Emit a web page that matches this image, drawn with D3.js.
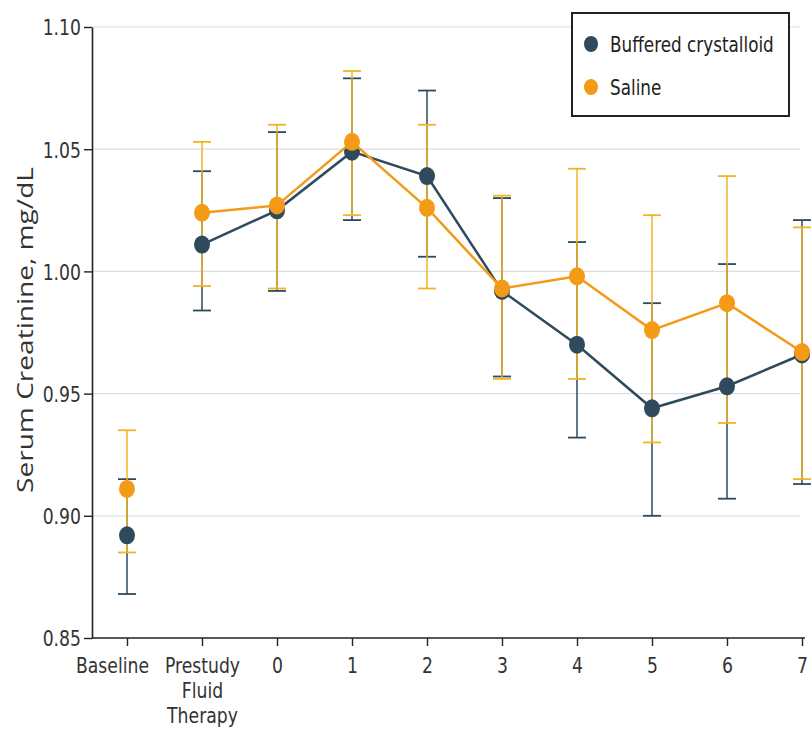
<!DOCTYPE html>
<html>
<head>
<meta charset="utf-8">
<script src="https://cdn.jsdelivr.net/npm/d3@7/dist/d3.min.js"></script>
<style>
  body { margin: 0; background: #fff; }
  svg text { font-family: 'DejaVu Sans Condensed', sans-serif; }
</style>
</head>
<body>
<div id="chart"></div>
<script>
// categories along the x axis (multi-line labels split on |)
const categories = ['Baseline', 'Prestudy|Fluid|Therapy', '0', '1', '2', '3', '4', '5', '6', '7']
const yTicks = [0.85, 0.90, 0.95, 1.00, 1.05, 1.10]

// Buffered crystalloid: mean, lower, upper
const bufferedMean  = [0.892, 1.011, 1.025, 1.049, 1.039, 0.992, 0.970, 0.944, 0.953, 0.966]
const bufferedLower = [0.868, 0.984, 0.992, 1.021, 1.006, 0.957, 0.932, 0.900, 0.907, 0.913]
const bufferedUpper = [0.915, 1.041, 1.057, 1.079, 1.074, 1.030, 1.012, 0.987, 1.003, 1.021]

// Saline
const salineMean  = [0.911, 1.024, 1.027, 1.053, 1.026, 0.993, 0.998, 0.976, 0.987, 0.967]
const salineLower = [0.885, 0.994, 0.993, 1.023, 0.993, 0.956, 0.956, 0.930, 0.938, 0.915]
const salineUpper = [0.935, 1.053, 1.060, 1.082, 1.060, 1.031, 1.042, 1.023, 1.039, 1.018]

const W = 811, H = 754
const margin = {left: 92, top: 27, right: 6, bottom: 116}

const svg = d3.select('#chart').append('svg')
  .attr('width', W)
  .attr('height', H)

// squeeze text horizontally to mimic the narrow face of the original
function narrow(sel, k) {
  sel.each(function () {
    const len = this.getComputedTextLength()
    d3.select(this)
      .attr('lengthAdjust', 'spacingAndGlyphs')
      .attr('textLength', len * k)
  })
}

const x = d3.scalePoint()
  .domain(categories)
  .range([127, 802])

const y = d3.scaleLinear()
  .domain([0.85, 1.10])
  .range([H - margin.bottom, margin.top])

// gridlines
svg.append('g')
  .selectAll('line')
  .data(yTicks.filter(d => d > 0.85))
  .enter().append('line')
  .attr('x1', margin.left)
  .attr('x2', 800)
  .attr('y1', d => y(d))
  .attr('y2', d => y(d))
  .attr('stroke', '#dedede')
  .attr('stroke-width', 1.2)

const series = [
  {name: 'Buffered crystalloid', mean: bufferedMean, lo: bufferedLower, hi: bufferedUpper, color: '#2f4a5d', bar: '#2f4a5d'},
  {name: 'Saline', mean: salineMean, lo: salineLower, hi: salineUpper, color: '#f39a16', bar: '#f2b324'}
]

// error bars first, then lines and dots
series.forEach(s => {
  const g = svg.append('g')
  categories.forEach((c, i) => {
    g.append('line')
      .attr('x1', x(c)).attr('x2', x(c))
      .attr('y1', y(s.lo[i])).attr('y2', y(s.hi[i]))
      .attr('stroke', s.bar).attr('stroke-width', 1.5)
    ;[s.lo[i], s.hi[i]].forEach(v => {
      g.append('line')
        .attr('x1', x(c) - 9).attr('x2', x(c) + 9)
        .attr('y1', y(v)).attr('y2', y(v))
        .attr('stroke', s.bar).attr('stroke-width', 1.8)
    })
  })
})

series.forEach(s => {
  const line = d3.line()
    .x((d, i) => x(categories[i + 1]))
    .y(d => y(d))
  // the baseline point is not joined to the rest
  svg.append('path')
    .datum(s.mean.slice(1))
    .attr('fill', 'none')
    .attr('stroke', s.color)
    .attr('stroke-width', 2.5)
    .attr('d', line)

  svg.append('g')
    .selectAll('ellipse')
    .data(s.mean)
    .enter().append('ellipse')
    .attr('cx', (d, i) => x(categories[i]))
    .attr('cy', d => y(d))
    .attr('rx', 8)
    .attr('ry', 9)
    .attr('fill', s.color)
})

// y axis
const yAxis = d3.axisLeft(y)
  .tickValues(yTicks)
  .tickFormat(d3.format('.2f'))
  .tickSize(8)
  .tickSizeOuter(0)

const gy = svg.append('g')
  .attr('transform', `translate(${margin.left},0)`)
  .call(yAxis)
gy.attr('font-family', null)
gy.select('.domain').attr('stroke', '#222').attr('stroke-width', 1.6)
gy.selectAll('.tick line').attr('stroke', '#222').attr('stroke-width', 1.4)
gy.selectAll('.tick text')
  .attr('x', -11)
  .attr('dy', '0.36em')
  .attr('font-size', 22)
  .attr('fill', '#333')
  .call(narrow, 0.87)

// x axis
const xAxis = d3.axisBottom(x)
  .tickSize(8)
  .tickSizeOuter(0)
  .tickFormat('')

const gx = svg.append('g')
  .attr('transform', `translate(0,${H - margin.bottom})`)
  .call(xAxis)
gx.attr('font-family', null)
gx.select('.domain')
  .attr('d', `M${margin.left},0H805`)
  .attr('stroke', '#222').attr('stroke-width', 1.6)
gx.selectAll('.tick line').attr('stroke', '#222').attr('stroke-width', 1.4)

gx.selectAll('.tick').each(function (d) {
  const tick = d3.select(this)
  d.split('|').forEach((part, k) => {
    tick.append('text')
      .attr('fill', '#333')
      .attr('font-size', 22)
      .attr('text-anchor', 'middle')
      .attr('x', d === 'Baseline' ? -15 : 0)
      .attr('y', 35 + k * 25)
      .text(part)
  })
})
gx.selectAll('.tick text').call(narrow, 0.87)

// y axis title
svg.append('text')
  .attr('transform', `translate(33,330) rotate(-90)`)
  .attr('text-anchor', 'middle')
  .attr('font-size', 22)
  .attr('fill', '#333')
  .attr('textLength', 326)
  .attr('lengthAdjust', 'spacingAndGlyphs')
  .style('font-family', "'Open Sans', sans-serif")
  .text('Serum Creatinine, mg/dL')

// legend
const legend = svg.append('g').attr('transform', 'translate(572,13)')
legend.append('rect')
  .attr('width', 217).attr('height', 103)
  .attr('fill', '#fff')
  .attr('stroke', '#222').attr('stroke-width', 2)

series.forEach((s, i) => {
  const row = legend.append('g').attr('transform', `translate(0,${31 + i * 43})`)
  row.append('ellipse')
    .attr('cx', 19).attr('cy', 0)
    .attr('rx', 7).attr('ry', 8)
    .attr('fill', s.color)
  row.append('text')
    .attr('x', 38).attr('y', 8)
    .attr('font-size', 22)
    .attr('fill', '#222')
    .text(s.name)
    .call(narrow, 0.85)
})
</script>
</body>
</html>
